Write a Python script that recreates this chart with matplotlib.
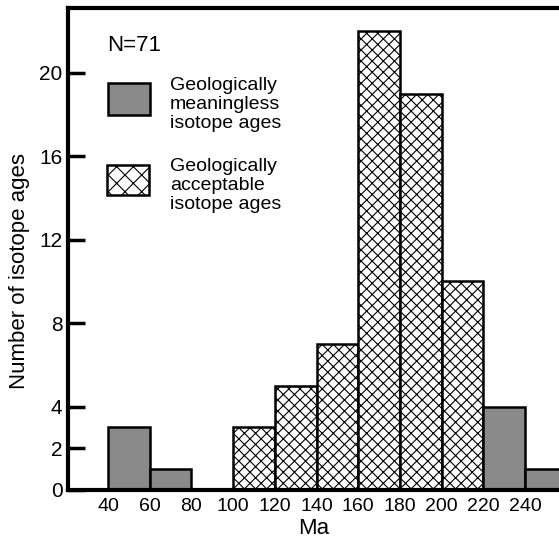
# Histogram of isotope ages (Ma), meaningless vs acceptable ages

import matplotlib.pyplot as plt
from matplotlib.patches import Rectangle

OUT_FIG = "out.png"

# bins (left edge, Ma) and counts
bin_left = [40, 60, 80, 100, 120, 140, 160, 180, 200, 220, 240]
counts = [3, 1, 0, 3, 5, 7, 22, 19, 10, 4, 1]
# True = geologically acceptable (hatched), False = meaningless (grey)
acceptable = [False, False, False, True, True, True, True, True, True, False, False]

x_ticks = [40, 60, 80, 100, 120, 140, 160, 180, 200, 220, 240]
y_ticks = [0, 2, 4, 8, 12, 16, 20]

GREY = "#8a8a8a"


def main():
    plt.rcParams["font.family"] = ["Liberation Sans", "DejaVu Sans"]
    plt.rcParams["hatch.linewidth"] = 0.8
    plt.rcParams["hatch.color"] = "black"

    fig = plt.figure(figsize=(5.59, 5.44), dpi=100)
    ax = fig.add_axes([0.1216, 0.0993, 0.8784, 0.886])

    for left, n, ok in zip(bin_left, counts, acceptable):
        if n == 0:
            continue
        if ok:
            ax.bar(left, n, width=20, align="edge", facecolor="white",
                   edgecolor="black", hatch="xxx", linewidth=1.8)
        else:
            ax.bar(left, n, width=20, align="edge", facecolor=GREY,
                   edgecolor="black", linewidth=1.8)

    ax.set_xlim(20.8, 256.3)
    ax.set_ylim(0, 23.1)

    ax.set_xticks(x_ticks)
    ax.set_xticklabels([str(v) for v in x_ticks])
    ax.set_yticks(y_ticks)
    ax.tick_params(axis="x", length=0, labelsize=14, pad=6)
    ax.tick_params(axis="y", direction="in", length=12, width=2.5,
                   labelsize=15, pad=4)

    for side in ["left", "bottom", "top"]:
        ax.spines[side].set_linewidth(3)
    ax.spines["right"].set_visible(False)

    ax.set_xlabel("Ma", fontsize=16, labelpad=2)
    ax.set_ylabel("Number of isotope ages", fontsize=16)
    # label sits a bit below the axis centre in the original
    ax.yaxis.set_label_coords(-0.077, 0.455)

    # legend drawn by hand in axes coordinates
    ax.text(0.08, 0.923, "N=71", transform=ax.transAxes, fontsize=16,
            va="center", ha="left")
    ax.add_patch(Rectangle((0.0815, 0.778), 0.0855, 0.066, transform=ax.transAxes,
                           facecolor=GREY, edgecolor="black", linewidth=1.8,
                           clip_on=False))
    ax.add_patch(Rectangle((0.0795, 0.612), 0.0855, 0.062, transform=ax.transAxes,
                           facecolor="white", edgecolor="black", hatch="xx",
                           linewidth=1.8, clip_on=False))
    ax.text(0.208, 0.857, "Geologically\nmeaningless\nisotope ages",
            transform=ax.transAxes, fontsize=14, va="top", ha="left",
            linespacing=1.15)
    ax.text(0.208, 0.688, "Geologically\nacceptable\nisotope ages",
            transform=ax.transAxes, fontsize=14, va="top", ha="left",
            linespacing=1.15)

    fig.savefig(OUT_FIG, dpi=100)
    plt.close(fig)


if __name__ == "__main__":
    main()
